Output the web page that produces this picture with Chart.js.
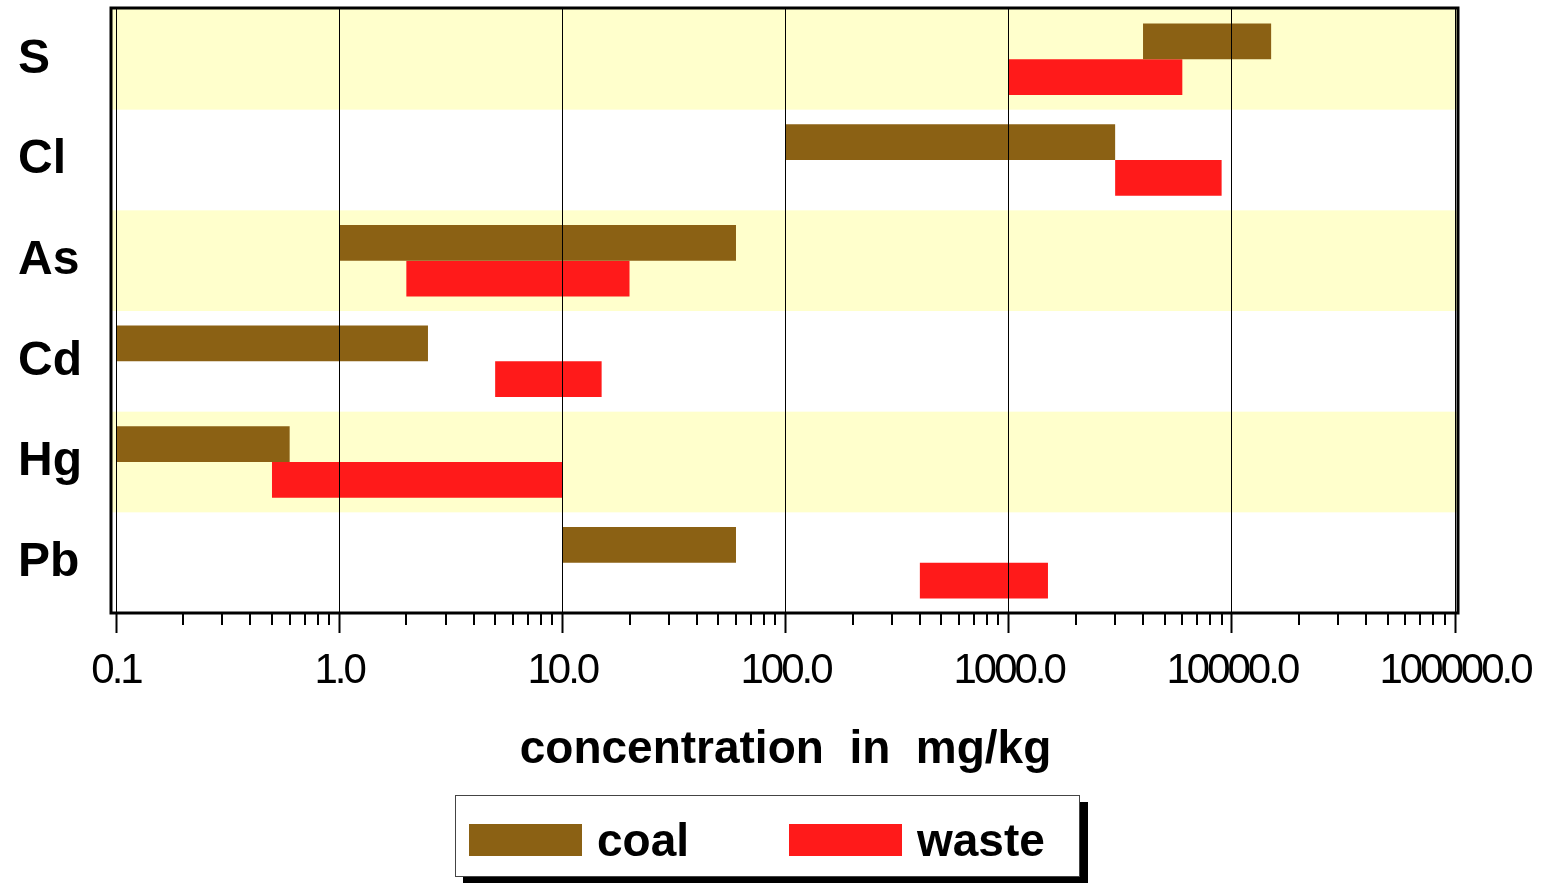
<!DOCTYPE html>
<html>
<head>
<meta charset="utf-8">
<title>coal vs waste</title>
<script src="https://cdn.jsdelivr.net/npm/chart.js@4.4.1/dist/chart.umd.min.js"></script>
<style>
  body { margin: 0; background: #fff; }
  #wrap { position: relative; width: 1541px; height: 883px; }
  #legend {
    position: absolute; left: 455px; top: 795px; width: 623px; height: 80px;
    border: 1px solid #444; background: #fff; box-shadow: 8px 7px 0 #000;
    font: bold 46px 'Liberation Sans', Arial, sans-serif; color: #000;
  }
  .sw { position: absolute; top: 28px; width: 113px; height: 32px; }
  .lbl { position: absolute; top: 44px; transform: translateY(-50%); line-height: 1; }
</style>
</head>
<body>
<div id="wrap">
  <canvas id="chart" width="1541" height="883"></canvas>
  <div id="legend">
    <div class="sw" style="left:13px;background:#8b6114"></div>
    <span class="lbl" style="left:141px">coal</span>
    <div class="sw" style="left:333px;background:#ff1a1a"></div>
    <span class="lbl" style="left:461px">waste</span>
  </div>
</div>
<script>
const elements = ['S', 'Cl', 'As', 'Cd', 'Hg', 'Pb'];
const coalMin = [4000, 100, 1, 0.1, 0.1, 10];
const coalMax = [15000, 3000, 60, 2.5, 0.6, 60];
const wasteMin = [1000, 3000, 2, 5, 0.5, 400];
const wasteMax = [6000, 9000, 20, 15, 10, 1500];
const decadeTicks = [0.1, 1, 10, 100, 1000, 10000, 100000];

const coalColor = '#8b6114';
const wasteColor = '#ff1a1a';
const bandColor = '#ffffcc';

// yellow bands behind every other row, frame and minor ticks on top
const decorPlugin = {
  id: 'decor',
  beforeDatasetsDraw(chart) {
    const { ctx, chartArea, scales: { y } } = chart;
    const half = (y.getPixelForValue(1) - y.getPixelForValue(0)) / 2;
    ctx.save();
    ctx.fillStyle = bandColor;
    elements.forEach((el, i) => {
      if (i % 2) return;
      const c = y.getPixelForValue(i);
      ctx.fillRect(chartArea.left - 4, c - half, chartArea.width + 6, half * 2);
    });
    ctx.restore();
  },
  afterDraw(chart) {
    const { ctx, chartArea, scales: { x } } = chart;
    ctx.save();
    ctx.strokeStyle = '#000';
    ctx.lineWidth = 2;
    decadeTicks.slice(0, -1).forEach((d) => {
      for (let k = 2; k <= 9; k++) {
        const px = Math.round(x.getPixelForValue(d * k));
        ctx.beginPath();
        ctx.moveTo(px, chartArea.bottom);
        ctx.lineTo(px, chartArea.bottom + 12);
        ctx.stroke();
      }
    });
    ctx.lineWidth = 3;
    ctx.strokeRect(chartArea.left - 5, chartArea.top - 1, chartArea.width + 8, chartArea.height + 1);
    ctx.restore();
  },
};

const fontFamily = "'Liberation Sans', Arial, sans-serif";

// tick labels in the original are set tight, squeeze them a bit
function drawTightLabels(area) {
  this.ctx.save();
  this.ctx.letterSpacing = '-3px';
  Chart.Scale.prototype.drawLabels.call(this, area);
  this.ctx.restore();
}

new Chart(document.getElementById('chart'), {
  type: 'bar',
  data: {
    labels: elements,
    datasets: [
      {
        label: 'coal',
        data: coalMin.map((v, i) => [v, coalMax[i]]),
        backgroundColor: coalColor,
      },
      {
        label: 'waste',
        data: wasteMin.map((v, i) => [v, wasteMax[i]]),
        backgroundColor: wasteColor,
      },
    ],
  },
  options: {
    indexAxis: 'y',
    responsive: false,
    animation: false,
    categoryPercentage: 0.71,
    barPercentage: 1,
    layout: { padding: { left: 18, top: 9, right: 86, bottom: 110 } },
    plugins: {
      legend: { display: false },
      tooltip: { enabled: false },
    },
    scales: {
      x: {
        type: 'logarithmic',
        min: 0.1,
        max: 100000,
        afterBuildTicks: (s) => {
          s.ticks = decadeTicks.map((v) => ({ value: v }));
        },
        afterFit: (s) => {
          s.height = 160;
          s.paddingLeft = 0;
          s.paddingRight = 0;
          s.drawLabels = drawTightLabels;
        },
        ticks: {
          autoSkip: false,
          maxRotation: 0,
          padding: 17,
          color: '#000',
          font: { family: fontFamily, size: 42, lineHeight: 1 },
          callback: (v) => Number(v).toFixed(1),
        },
        grid: { z: 1, color: '#000', lineWidth: 1, tickLength: 20, tickWidth: 2, tickColor: '#000' },
        border: { display: false },
        title: {
          display: true,
          text: 'concentration  in  mg/kg',
          color: '#000',
          font: { family: fontFamily, size: 46, weight: 'bold', lineHeight: 1 },
          padding: 0,
        },
      },
      y: {
        afterFit: (s) => {
          s.width = 98;
          s.paddingTop = 0;
          s.paddingBottom = 0;
        },
        grid: { display: false },
        border: { display: false },
        ticks: {
          crossAlign: 'far',
          color: '#000',
          font: { family: fontFamily, size: 48, weight: 'bold' },
        },
      },
    },
  },
  plugins: [decorPlugin],
});
</script>
</body>
</html>
